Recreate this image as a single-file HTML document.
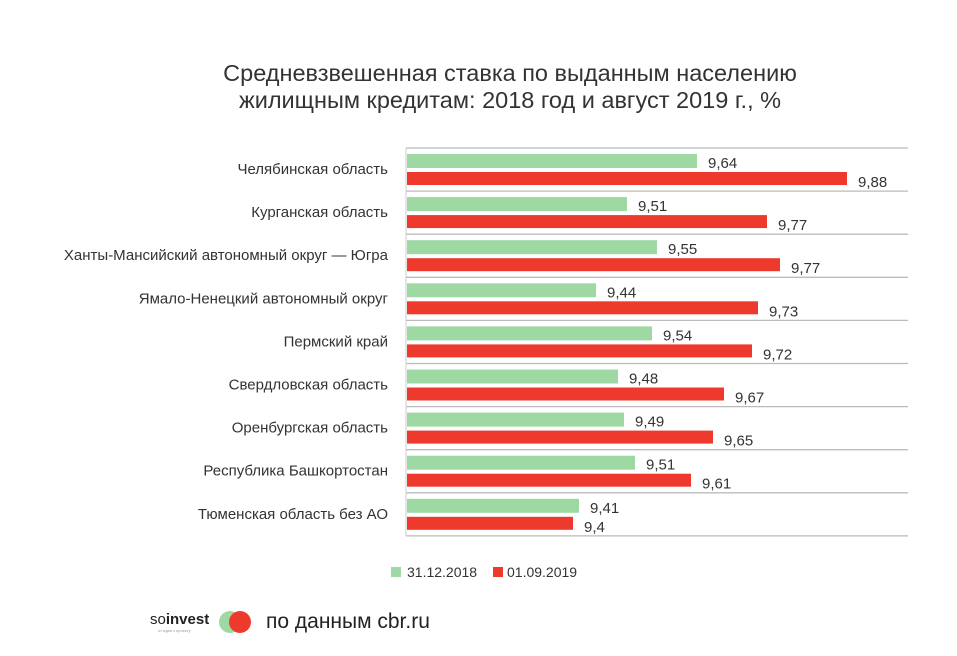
<!DOCTYPE html>
<html><head><meta charset="utf-8"><style>
html,body{margin:0;padding:0;background:#fff;}
body{width:957px;height:651px;overflow:hidden;position:relative;font-family:"Liberation Sans","DejaVu Sans",sans-serif;}
</style></head><body>
<svg width="957" height="651" viewBox="0 0 957 651" xmlns="http://www.w3.org/2000/svg" font-family="Liberation Sans, DejaVu Sans, sans-serif">
<text x="510" y="81" text-anchor="middle" font-size="23.5" fill="#333">Средневзвешенная ставка по выданным населению</text>
<text x="510" y="108" text-anchor="middle" font-size="23.5" fill="#333">жилищным кредитам: 2018 год и август 2019 г., %</text>
<g id="chart"></g>
<line x1="406" y1="148" x2="406" y2="536" stroke="#ccc" stroke-width="1"/>
<rect x="391" y="567" width="10" height="10" fill="#9ed9a4"/>
<text x="407" y="577" font-size="14" fill="#333">31.12.2018</text>
<rect x="493" y="567" width="10" height="10" fill="#ee3a2d"/>
<text x="507" y="577" font-size="14" fill="#333">01.09.2019</text>
<text x="150" y="624" font-size="15" fill="#222">so<tspan font-weight="bold">invest</tspan></text>
<text x="158" y="632" font-size="4" fill="#999">от идеи к проекту</text>
<circle cx="230" cy="622" r="11" fill="#9ed9a4"/>
<circle cx="240" cy="622" r="11" fill="#ee3a2d"/>
<text x="266" y="628" font-size="21" fill="#222">по данным cbr.ru</text>
</svg>
<script>
var d=[["Челябинская область",9.64,697,9.88,847],["Курганская область",9.51,627,9.77,767],["Ханты-Мансийский автономный округ — Югра",9.55,657,9.77,780],["Ямало-Ненецкий автономный округ",9.44,596,9.73,758],["Пермский край",9.54,652,9.72,752],["Свердловская область",9.48,618,9.67,724],["Оренбургская область",9.49,624,9.65,713],["Республика Башкортостан",9.51,635,9.61,691],["Тюменская область без АО",9.41,579,9.4,573]];
var g=document.getElementById("chart"),s="";
function f(v){return String(v).replace(".",",");}
for(var i=0;i<=9;i++){var y=148+i*43.1;s+='<line x1="406" x2="908" y1="'+y.toFixed(1)+'" y2="'+y.toFixed(1)+'" stroke="#bbb" stroke-width="1.3"/>';}
d.forEach(function(r,i){var t=148+i*43.1;
s+='<text x="388" y="'+(t+26)+'" text-anchor="end" font-size="15" fill="#333">'+r[0]+'</text>';
s+='<rect x="407" y="'+(t+6)+'" width="'+(r[2]-407)+'" height="14" fill="#9ed9a4"/>';
s+='<rect x="407" y="'+(t+24)+'" width="'+(r[4]-407)+'" height="13" fill="#ee3a2d"/>';
s+='<text x="'+(r[2]+11)+'" y="'+(t+20)+'" font-size="15" fill="#333">'+f(r[1])+'</text>';
s+='<text x="'+(r[4]+11)+'" y="'+(t+39)+'" font-size="15" fill="#333">'+f(r[3])+'</text>';});
g.innerHTML=s;
</script>
</body></html>
